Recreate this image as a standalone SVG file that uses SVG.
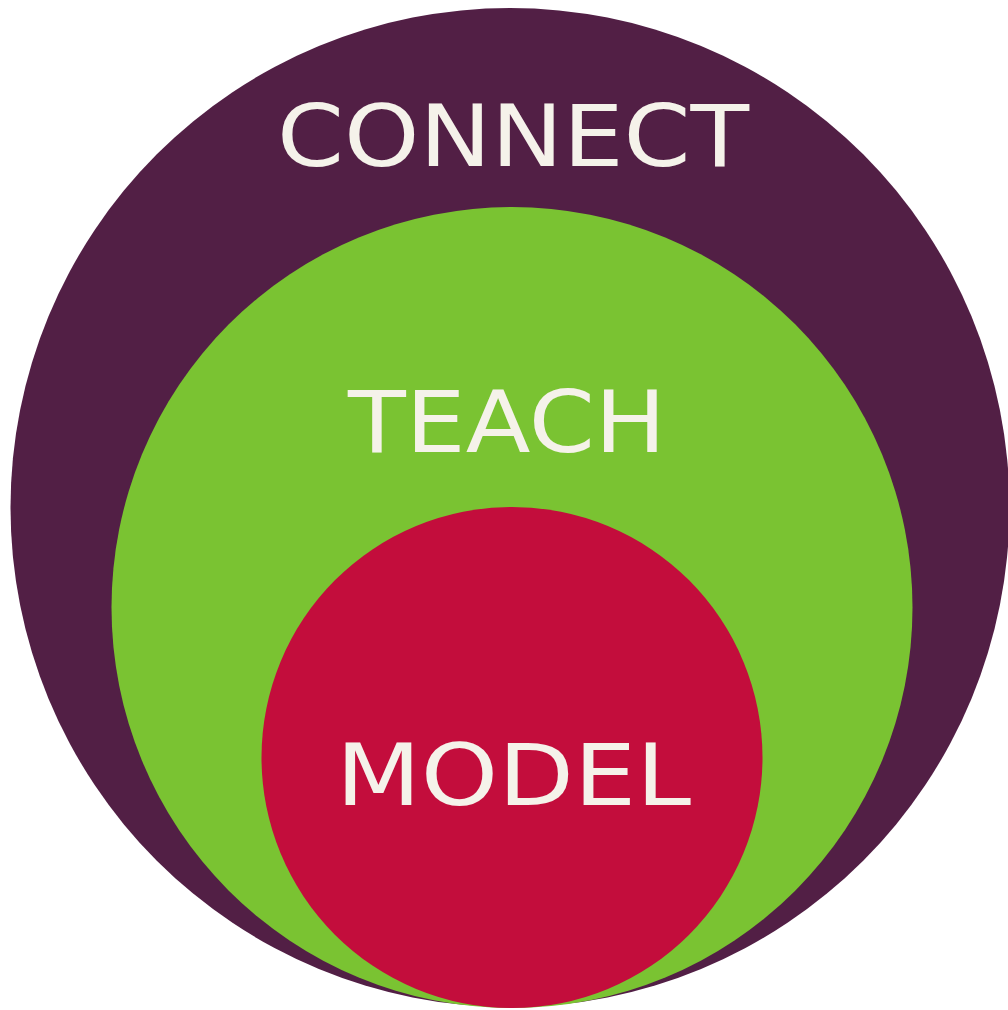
<svg xmlns="http://www.w3.org/2000/svg" width="1008" height="1010" viewBox="0 0 1008 1010">
<style>
.lbl{font-family:"DejaVu Sans","Liberation Sans",sans-serif;font-size:86px;fill:#F5F2EA;}
</style>
<rect width="1008" height="1010" fill="#FFFFFF"/>
<g id="connect">
<circle cx="510" cy="507.5" r="499.5" fill="#521F45"/>
<text class="lbl" x="277" y="166" textLength="472" lengthAdjust="spacingAndGlyphs">CONNECT</text>
</g>
<g id="teach">
<circle cx="512" cy="607.5" r="400.5" fill="#7AC332"/>
<text class="lbl" x="348" y="452" textLength="318" lengthAdjust="spacingAndGlyphs">TEACH</text>
</g>
<g id="model">
<circle cx="512" cy="757.5" r="250.5" fill="#C30D3C"/>
<text class="lbl" x="336" y="805" textLength="355" lengthAdjust="spacingAndGlyphs">MODEL</text>
</g>
<g id="connectors"/>
</svg>
